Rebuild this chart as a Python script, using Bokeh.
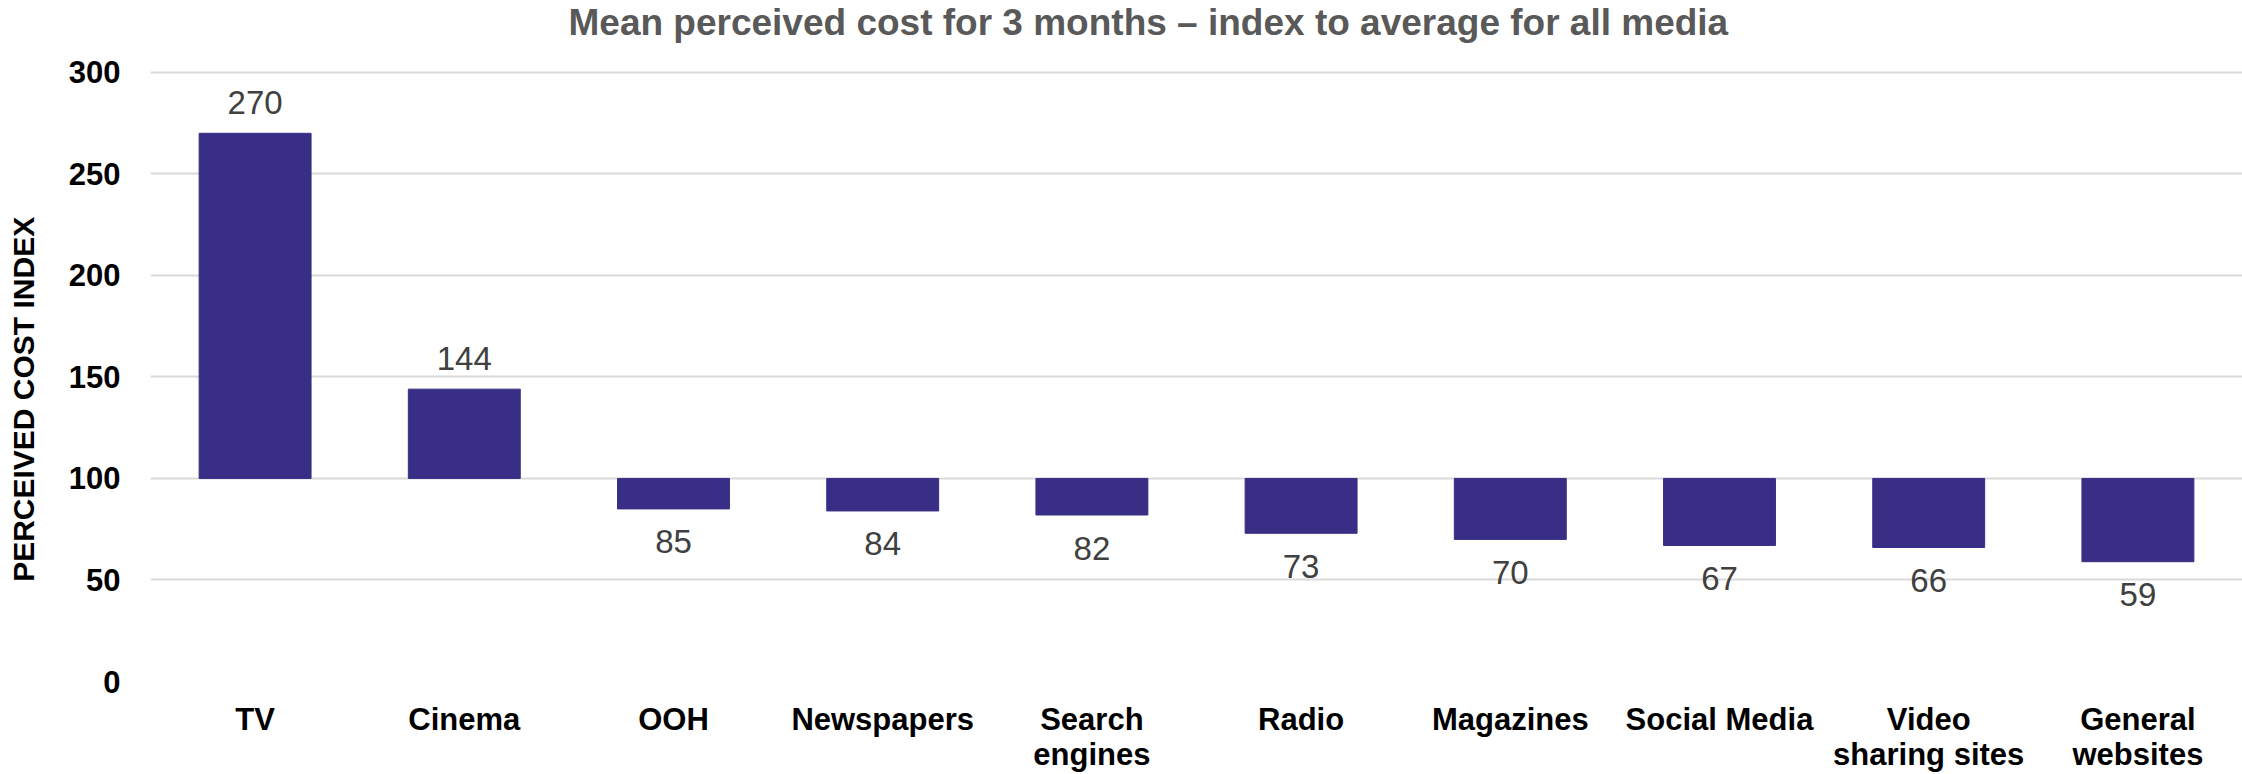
from bokeh.plotting import figure
from bokeh.models import ColumnDataSource, FactorRange, Range1d
from bokeh.core.properties import value
from bokeh.embed import file_html
from bokeh.resources import INLINE

# ---- data ----
categories = ["TV", "Cinema", "OOH", "Newspapers", "Search\nengines", "Radio",
              "Magazines", "Social Media", "Video\nsharing sites", "General\nwebsites"]
values = [270, 144, 85, 84, 82, 73, 70, 67, 66, 59]
baseline = 100
y_ticks = [0, 50, 100, 150, 200, 250, 300]
title_text = "Mean perceived cost for 3 months \u2013 index to average for all media"
y_label = "PERCEIVED COST INDEX"

SANS = "Liberation Sans"
BAR = "#382E85"

# ---- layout geometry (pixels) ----
W, H = 2242, 774
BORDER_LEFT, BORDER_BOTTOM = 150, 92
TOP_GAP = 72                       # space above the 300 gridline, holds the title
frame_h = H - BORDER_BOTTOM
px_per_unit = (frame_h - TOP_GAP) / y_ticks[-1]
y_end = y_ticks[-1] + TOP_GAP / px_per_unit
cat_px = (W - BORDER_LEFT) / len(categories)

src = ColumnDataSource(dict(
    cat=categories,
    top=values,
    bottom=[baseline] * len(values),
    lbl=[str(v) for v in values],
    off=[-31 if v > baseline else 33 for v in values],
))

p = figure(width=W, height=H, output_backend="svg", toolbar_location=None,
           x_range=FactorRange(factors=categories, range_padding=0),
           y_range=Range1d(0, y_end),
           min_border_left=BORDER_LEFT, min_border_right=0, min_border_top=0,
           min_border_bottom=BORDER_BOTTOM)
p.title.visible = False
p.outline_line_color = None
p.background_fill_color = "white"
p.border_fill_color = "white"

p.vbar(x="cat", top="top", bottom="bottom", width=0.535, source=src,
       fill_color=BAR, line_color=BAR, line_width=1)

p.text(x="cat", y="top", text="lbl", source=src, y_offset="off",
       text_font=value(SANS), text_font_size="33px", text_color="#404040",
       text_align="center", text_baseline="alphabetic")

# chart title, drawn in the space above the top gridline
p.text(x=[418 / cat_px], y=[y_ticks[-1] + (TOP_GAP - 22) / px_per_unit], text=[title_text],
       text_font=value(SANS), text_font_size="37px", text_font_style="bold",
       text_color="#595959", text_align="left", text_baseline="middle")

# grid
p.xgrid.grid_line_color = None
p.ygrid.grid_line_color = "#d9d9d9"
p.ygrid.grid_line_width = 2
p.yaxis.ticker = y_ticks

# y axis
ya = p.yaxis[0]
ya.axis_line_color = None
ya.major_tick_line_color = None
ya.minor_tick_line_color = None
ya.major_tick_out = 0
ya.major_tick_in = 0
ya.major_label_standoff = 30
ya.major_label_text_font = SANS
ya.major_label_text_font_size = "31px"
ya.major_label_text_font_style = "bold"
ya.major_label_text_color = "black"
ya.axis_label = y_label + "\u00a0" * 14
ya.axis_label_text_font = SANS
ya.axis_label_text_font_size = "30px"
ya.axis_label_text_font_style = "bold"
ya.axis_label_text_color = "black"
ya.axis_label_standoff = 26

# x axis
xa = p.xaxis[0]
xa.axis_line_color = None
xa.major_tick_line_color = None
xa.minor_tick_line_color = None
xa.major_tick_out = 0
xa.major_tick_in = 0
xa.major_label_standoff = 20
xa.major_label_text_font = SANS
xa.major_label_text_font_size = "31px"
xa.major_label_text_font_style = "bold"
xa.major_label_text_color = "black"
xa.major_label_text_line_height = 1.0
xa.major_label_orientation = "horizontal"

open("out.html", "w").write(file_html(p, INLINE))
